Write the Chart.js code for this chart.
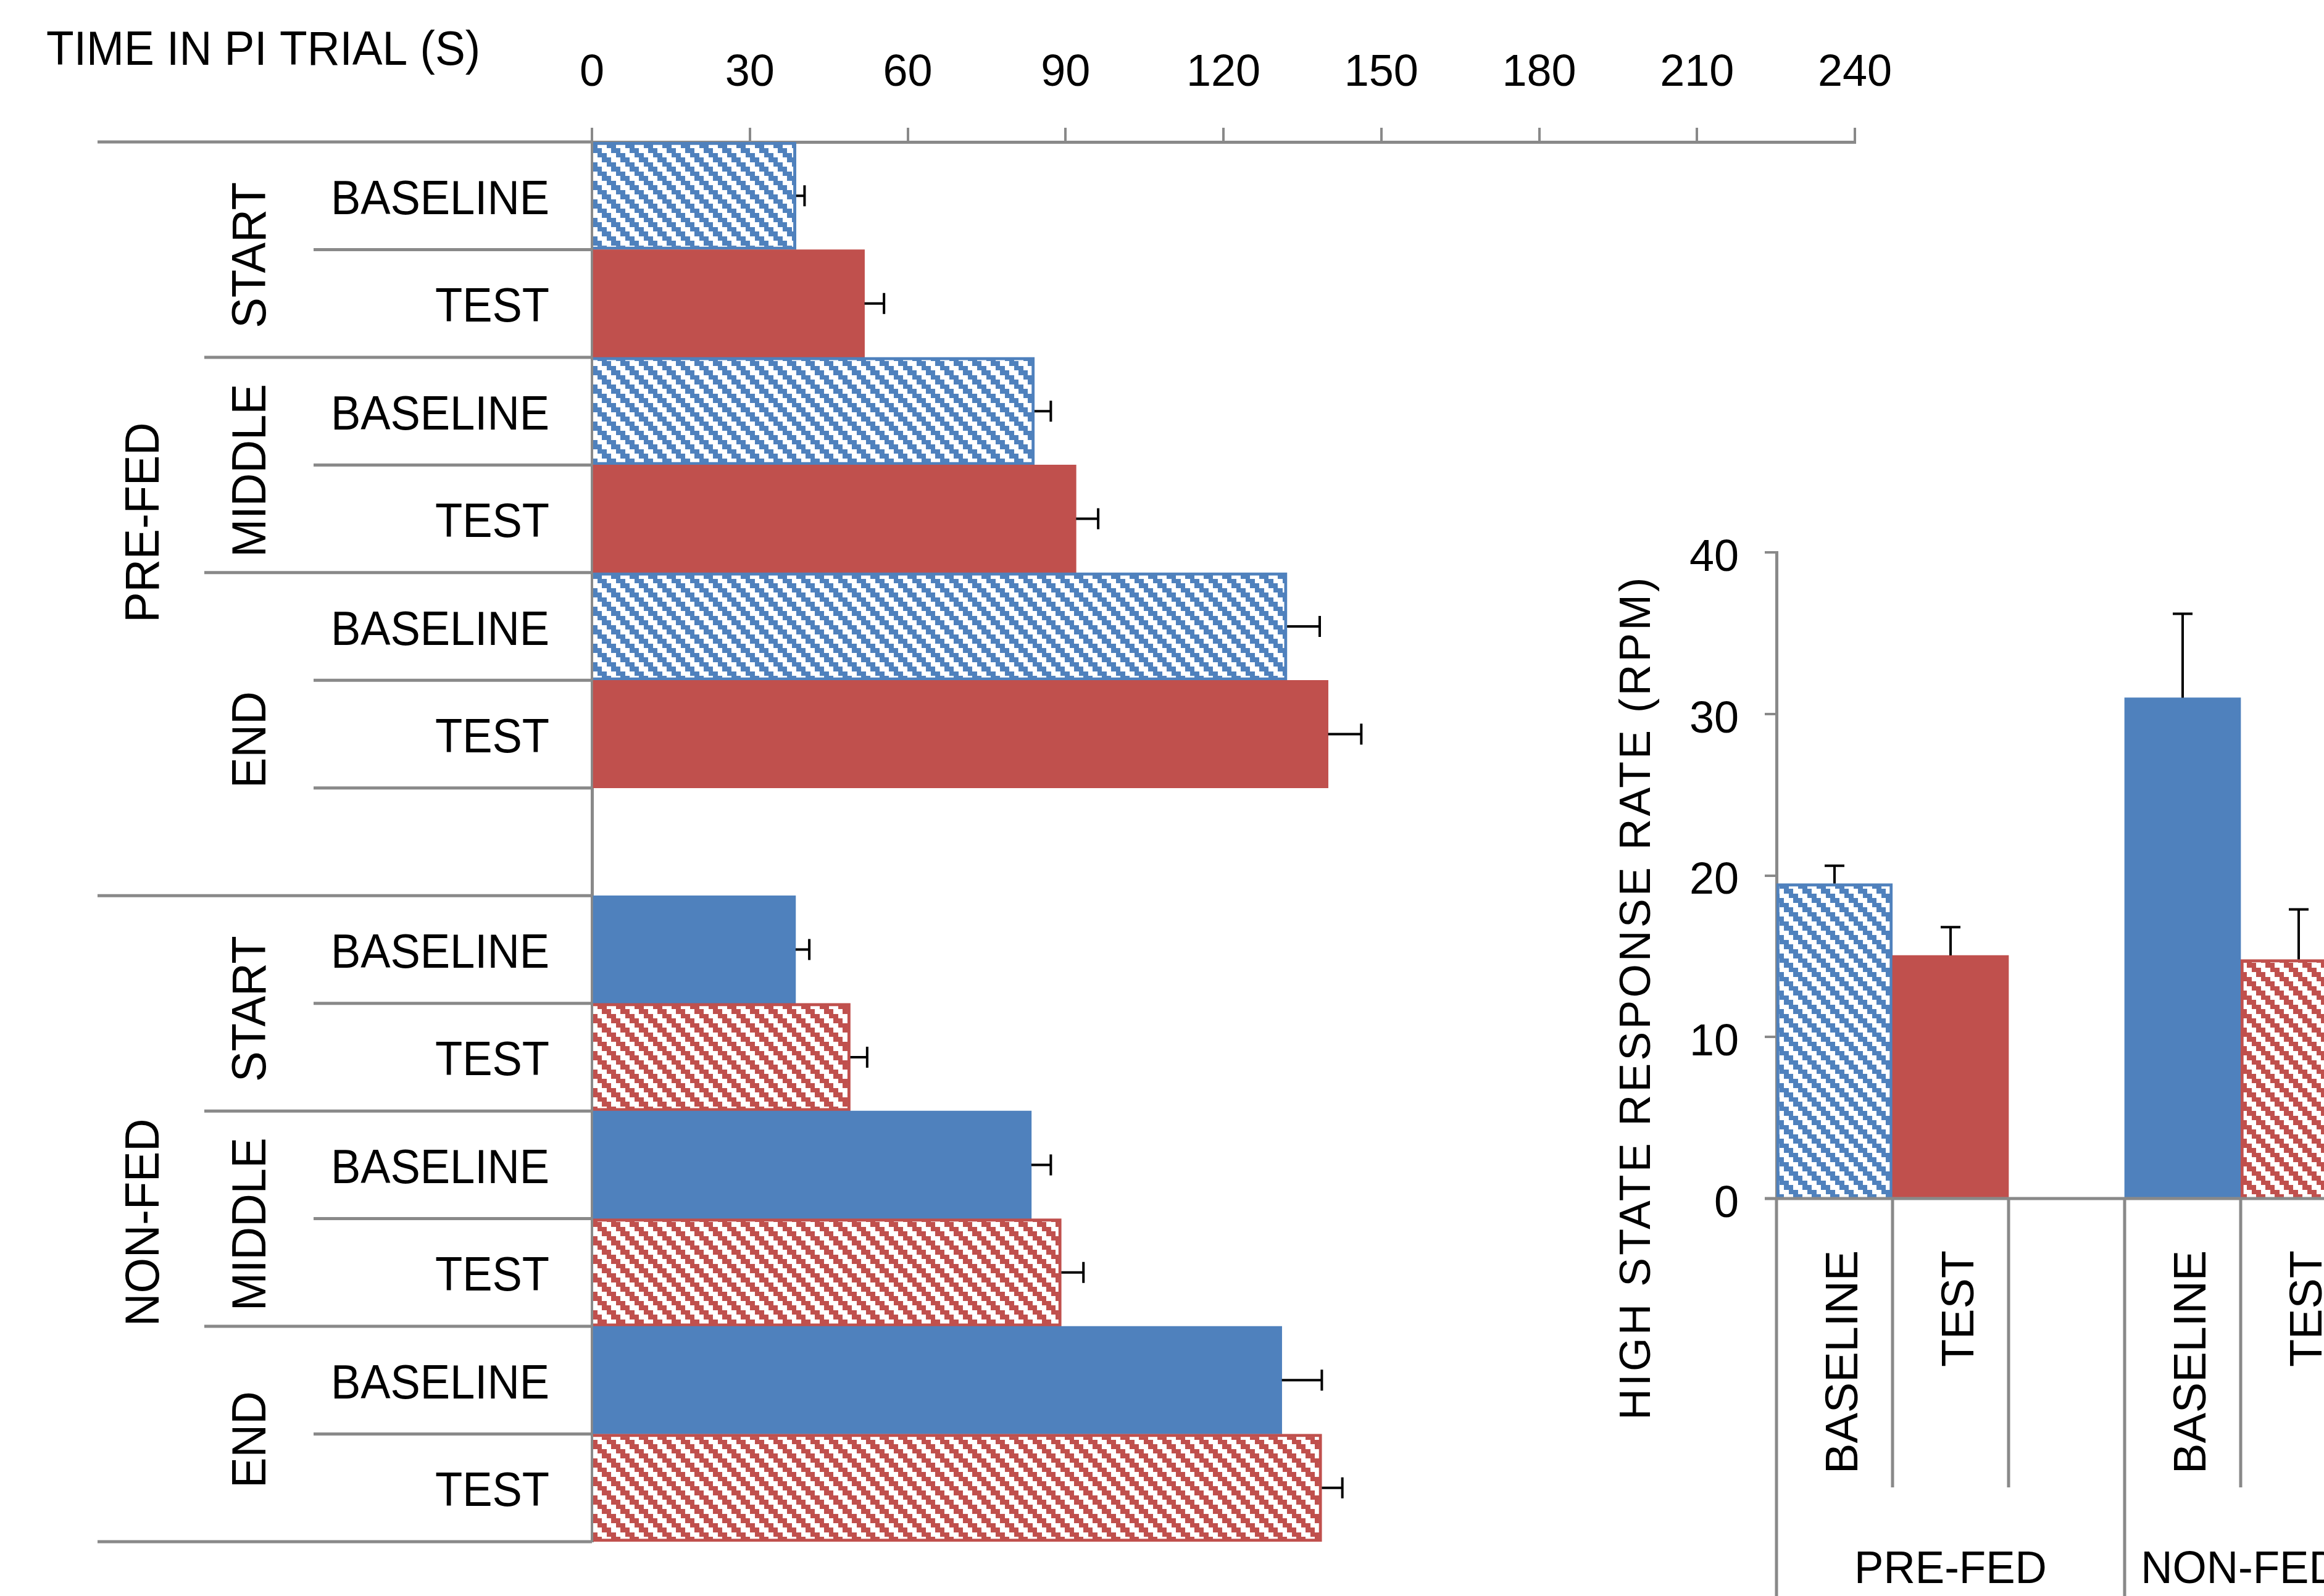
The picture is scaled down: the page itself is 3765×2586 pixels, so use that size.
<!DOCTYPE html>
<html>
<head>
<meta charset="utf-8">
<script src="https://cdn.jsdelivr.net/npm/chart.js@4.4.1/dist/chart.umd.min.js"></script>
<style>
  html, body { margin: 0; padding: 0; background: #fff; }
  body { width: 3765px; height: 2586px; overflow: hidden; position: relative; }
  canvas { position: absolute; top: 0; }
  #left { left: 0; }
  #right { left: 2500px; }
</style>
</head>
<body>
<canvas id="left" width="3130" height="2586"></canvas>
<canvas id="right" width="1500" height="2586"></canvas>
<script>
// ---------------- DATA ----------------
// Left chart: time in PI trial (s), rows top to bottom
const conditions = ['BASELINE', 'TEST'];
const phases = ['START', 'MIDDLE', 'END'];
const groups = ['PRE-FED', 'NON-FED'];
const timeTicks = [0, 30, 60, 90, 120, 150, 180, 210, 240];

const prefedTime = [38.8, 51.8, 84.1, 92.0, 132.1, 139.9];
const prefedTimeErr = [1.6, 3.7, 3.1, 4.2, 6.2, 6.3];
const nonfedTime = [38.7, 49.1, 83.5, 89.2, 131.1, 138.7];
const nonfedTimeErr = [2.6, 3.2, 3.7, 4.2, 7.6, 3.9];

// Right chart: high state response rate (RPM)
const rateCategories = ['BASELINE', 'TEST', '', 'BASELINE', 'TEST'];
const rateGroups = ['PRE-FED', 'NON-FED'];
const rateValues = [19.5, 15.05, null, 31.0, 14.8];
const rateErr = [1.1, 1.75, null, 5.2, 3.1];
const rateTicks = [0, 10, 20, 30, 40];

const leftTitle = 'TIME IN PI TRIAL (S)';
const rightTitle = 'HIGH STATE RESPONSE RATE (RPM)';

// ---------------- STYLE ----------------
const FONT = '"Liberation Sans", Arial, sans-serif';
const GRAY = '#898989';
const BLUE = '#4F81BD';
const RED = '#C0504D';

function makeHatch(color) {
  const c = document.createElement('canvas');
  c.width = 30; c.height = 30;
  const g = c.getContext('2d');
  g.fillStyle = '#fff';
  g.fillRect(0, 0, 30, 30);
  g.fillStyle = color;
  for (let r = 0; r < 4; r++) {
    const y0 = Math.round(r * 7.5), y1 = Math.round((r + 1) * 7.5);
    const x0 = Math.round(r * 7.5);
    g.fillRect(x0, y0, 15, y1 - y0);
    if (x0 + 15 > 30) g.fillRect(x0 - 30, y0, 15, y1 - y0);
  }
  return g.createPattern(c, 'repeat');
}
const blueHatch = makeHatch(BLUE);
const redHatch = makeHatch(RED);

function drawText(ctx, text, x, y, o) {
  ctx.save();
  ctx.translate(x, y);
  ctx.rotate(o.rot || 0);
  ctx.scale(o.sx || 1, 1);
  ctx.font = (o.size || 76) + 'px ' + FONT;
  if ('letterSpacing' in ctx) ctx.letterSpacing = (o.spacing || 0) + 'px';
  ctx.textAlign = o.align || 'left';
  ctx.textBaseline = 'alphabetic';
  ctx.fillStyle = '#000';
  ctx.fillText(text, 0, 0);
  ctx.restore();
}

// ---------------- LEFT CHART ----------------
// 13 rows: 6 pre-fed, one empty, 6 non-fed
const leftLabels = [];
const leftValues = [];
const leftErr = [];
const leftFill = [];
const leftBorderW = [];
const leftBorderC = [];
for (let i = 0; i < 6; i++) {
  leftLabels.push(conditions[i % 2]);
  leftValues.push(prefedTime[i]);
  leftErr.push(prefedTimeErr[i]);
  leftFill.push(i % 2 === 0 ? blueHatch : RED);
  leftBorderW.push(i % 2 === 0 ? 5 : 0);
  leftBorderC.push(i % 2 === 0 ? BLUE : RED);
}
leftLabels.push(''); leftValues.push(null); leftErr.push(null);
leftFill.push(BLUE); leftBorderW.push(0); leftBorderC.push(BLUE);
for (let i = 0; i < 6; i++) {
  leftLabels.push(conditions[i % 2]);
  leftValues.push(nonfedTime[i]);
  leftErr.push(nonfedTimeErr[i]);
  leftFill.push(i % 2 === 0 ? BLUE : redHatch);
  leftBorderW.push(i % 2 === 0 ? 0 : 5);
  leftBorderC.push(i % 2 === 0 ? BLUE : RED);
}

// spans (label index, first row, last row) for the outer label levels
const phaseSpans = [[0, 0, 1], [1, 2, 3], [2, 4, 6], [0, 7, 8], [1, 9, 10], [2, 11, 12]];
const groupSpans = [[0, 0, 6], [1, 7, 12]];

const leftDecor = {
  id: 'leftDecor',
  afterDatasetsDraw(chart) {
    const ctx = chart.ctx, xs = chart.scales.x, ys = chart.scales.y;
    ctx.save();
    ctx.strokeStyle = '#000';
    ctx.lineWidth = 4;
    leftValues.forEach((v, i) => {
      if (v == null) return;
      const x0 = xs.getPixelForValue(v), x1 = xs.getPixelForValue(v + leftErr[i]);
      const y = ys.getPixelForValue(i);
      ctx.beginPath();
      ctx.moveTo(x0, y); ctx.lineTo(x1, y);
      ctx.moveTo(x1, y - 17); ctx.lineTo(x1, y + 17);
      ctx.stroke();
    });
    ctx.restore();
  },
  afterDraw(chart) {
    const ctx = chart.ctx, ys = chart.scales.y;
    const area = chart.chartArea;
    const n = leftLabels.length;
    const half = (ys.getPixelForValue(1) - ys.getPixelForValue(0)) / 2;
    const edge = i => (i >= n ? ys.getPixelForValue(n - 1) + half : ys.getPixelForValue(i) - half);
    // separators
    const groupStarts = new Set(); groupSpans.forEach(s => { groupStarts.add(s[1]); groupStarts.add(s[2] + 1); });
    const phaseStarts = new Set(); phaseSpans.forEach(s => { phaseStarts.add(s[1]); phaseStarts.add(s[2] + 1); });
    ctx.save();
    ctx.strokeStyle = GRAY;
    ctx.lineWidth = 5;
    for (let i = 0; i <= n; i++) {
      let xStart = 508;
      if (groupStarts.has(i)) xStart = 158;
      else if (phaseStarts.has(i)) xStart = 331;
      const y = edge(i);
      ctx.beginPath();
      ctx.moveTo(xStart, y);
      ctx.lineTo(area.left, y);
      ctx.stroke();
    }
    ctx.restore();
    const size = 77, cap = 0.716 * size;
    // condition labels
    leftLabels.forEach((t, i) => {
      if (!t) return;
      drawText(ctx, t, 890, ys.getPixelForValue(i) + cap / 2 + 2, { size, align: 'right', sx: 0.94 });
    });
    // phase labels
    phaseSpans.forEach(s => {
      const yc = (edge(s[1]) + edge(s[2] + 1)) / 2 + 9;
      drawText(ctx, phases[s[0]], 402 + cap / 2, yc, { size, align: 'center', rot: -Math.PI / 2, sx: 0.965 });
    });
    groupSpans.forEach(s => {
      const yc = (edge(s[1]) + edge(s[2] + 1)) / 2 + 6;
      drawText(ctx, groups[s[0]], 229 + cap / 2, yc, { size, align: 'center', rot: -Math.PI / 2, sx: 0.96 });
    });
    // axis title
    drawText(ctx, leftTitle, 75, 105, { size, align: 'left', sx: 0.95 });
  }
};

new Chart(document.getElementById('left').getContext('2d'), {
  type: 'bar',
  data: {
    labels: leftLabels,
    datasets: [{
      data: leftValues,
      backgroundColor: leftFill,
      borderColor: leftBorderC,
      borderWidth: leftBorderW,
      borderSkipped: 'start',
      barPercentage: 1,
      categoryPercentage: 1
    }]
  },
  options: {
    indexAxis: 'y',
    responsive: false,
    animation: false,
    devicePixelRatio: 1,
    layout: { padding: { left: 0, right: 125, top: 0, bottom: 88 } },
    plugins: { legend: { display: false }, tooltip: { enabled: false } },
    scales: {
      x: {
        position: 'top', min: timeTicks[0], max: timeTicks[timeTicks.length - 1],
        afterBuildTicks(s) { s.ticks = timeTicks.map(v => ({ value: v })); },
        ticks: { font: { family: FONT, size: 72 }, color: '#000', padding: 45, maxRotation: 0, autoSkip: false },
        grid: { drawOnChartArea: false, drawTicks: true, tickLength: 23, color: GRAY, lineWidth: 4 },
        border: { display: true, color: GRAY, width: 5 },
        afterFit(s) { s.height = 230; }
      },
      y: {
        ticks: { display: false },
        grid: { display: false },
        border: { display: true, color: GRAY, width: 5 },
        afterFit(s) { s.width = 959; }
      }
    }
  },
  plugins: [leftDecor]
});

// ---------------- RIGHT CHART ----------------
const rateFill = [blueHatch, RED, BLUE, BLUE, redHatch];
const rateBorderC = [BLUE, RED, BLUE, BLUE, RED];
const rateBorderW = [5, 0, 0, 0, 5];
const rateGroupSpans = [[0, 0, 2], [1, 3, 4]];

const rightDecor = {
  id: 'rightDecor',
  afterDatasetsDraw(chart) {
    const ctx = chart.ctx, xs = chart.scales.x, ys = chart.scales.y;
    ctx.save();
    ctx.strokeStyle = '#000';
    ctx.lineWidth = 4;
    rateValues.forEach((v, i) => {
      if (v == null) return;
      const x = xs.getPixelForValue(i);
      const y0 = ys.getPixelForValue(v), y1 = ys.getPixelForValue(v + rateErr[i]);
      ctx.beginPath();
      ctx.moveTo(x, y0); ctx.lineTo(x, y1);
      ctx.moveTo(x - 16, y1); ctx.lineTo(x + 16, y1);
      ctx.stroke();
    });
    ctx.restore();
  },
  afterDraw(chart) {
    const ctx = chart.ctx, xs = chart.scales.x;
    const area = chart.chartArea;
    const catW = xs.getPixelForValue(1) - xs.getPixelForValue(0);
    const n = rateCategories.length;
    const H = chart.height;
    ctx.save();
    ctx.strokeStyle = GRAY;
    ctx.lineWidth = 5;
    // x axis line
    ctx.beginPath();
    ctx.moveTo(area.left - 19, area.bottom);
    ctx.lineTo(chart.width, area.bottom);
    ctx.stroke();
    const gStarts = new Set(); rateGroupSpans.forEach(s => { gStarts.add(s[1]); gStarts.add(s[2] + 1); });
    for (let k = 0; k <= n; k++) {
      const x = area.left + k * catW;
      ctx.beginPath();
      ctx.moveTo(x, area.bottom);
      ctx.lineTo(x, gStarts.has(k) ? H : 2410);
      ctx.stroke();
    }
    ctx.restore();
    const size = 74, cap = 0.716 * size;
    rateCategories.forEach((t, i) => {
      if (!t) return;
      const xc = xs.getPixelForValue(i) + 11;
      drawText(ctx, t, xc + cap / 2, 2026, { size, align: 'right', rot: -Math.PI / 2 });
    });
    rateGroupSpans.forEach(s => {
      const xc = area.left + ((s[1] + s[2] + 1) / 2) * catW;
      drawText(ctx, rateGroups[s[0]], xc, 2565, { size, align: 'center', sx: 0.96 });
    });
    // y axis title, letter-spaced to its span in the reference
    ctx.save();
    ctx.font = '70px ' + FONT;
    const w0 = ctx.measureText(rightTitle).width;
    ctx.restore();
    const spacing = Math.max(0, (1365 - w0) / (rightTitle.length - 1));
    drawText(ctx, rightTitle, 173, 1616, { size: 70, align: 'center', rot: -Math.PI / 2, spacing });
  }
};

new Chart(document.getElementById('right').getContext('2d'), {
  type: 'bar',
  data: {
    labels: rateCategories,
    datasets: [{
      data: rateValues,
      backgroundColor: rateFill,
      borderColor: rateBorderC,
      borderWidth: rateBorderW,
      borderSkipped: 'start',
      barPercentage: 1,
      categoryPercentage: 1
    }]
  },
  options: {
    responsive: false,
    animation: false,
    devicePixelRatio: 1,
    layout: { padding: { left: 0, right: 182, top: 895, bottom: 644 } },
    plugins: { legend: { display: false }, tooltip: { enabled: false } },
    scales: {
      x: { display: false },
      y: {
        min: rateTicks[0], max: rateTicks[rateTicks.length - 1],
        afterBuildTicks(s) { s.ticks = rateTicks.map(v => ({ value: v })); },
        ticks: { font: { family: FONT, size: 72 }, color: '#000', padding: 42, labelOffset: 10 },
        grid: { drawOnChartArea: false, drawTicks: true, tickLength: 19, color: GRAY, lineWidth: 4 },
        border: { display: true, color: GRAY, width: 5 },
        afterFit(s) { s.width = 378; }
      }
    }
  },
  plugins: [rightDecor]
});
</script>
</body>
</html>
